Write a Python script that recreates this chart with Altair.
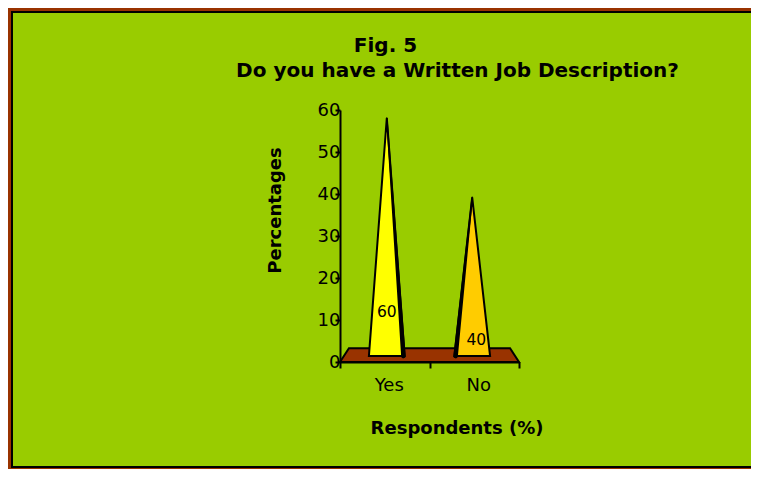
import altair as alt
import pandas as pd

# ---- data ----
categories = ["Yes", "No"]
values = [60, 40]              # percentages
label_level = [12, 5.2]        # where the value labels sit (in %)
y_ticks = [0, 10, 20, 30, 40, 50, 60]
cone_colors = ["#FFFF00", "#FFCC00"]
dark_side = [1, -1]            # side of the shaded cone face

# 3-D floor outline (x in category units 0..2, y in %)
floor_x = [0.0, 0.1, 1.9, 2.0]
floor_top = [0.0, 3.3, 3.3, 0.0]

# ---- layout constants ----
W, H = 179, 252
PERSPECTIVE = 0.945   # depth shrink of the cones standing mid-floor
CONE_BASE = 1.4       # cones stand in the middle of the floor depth
CONE_HALF = 0.2       # half base width in category units
FONT = "DejaVu Sans"

# ---- build tables ----
cone_rows, edge_rows = [], []
for i, (c, v) in enumerate(zip(categories, values)):
    cx = 1 + (i + 0.5 - 1) * 0.954
    apex = CONE_BASE + v * PERSPECTIVE
    cone_rows += [
        {"cat": c, "x": cx - CONE_HALF, "y": CONE_BASE, "base": CONE_BASE},
        {"cat": c, "x": cx, "y": apex, "base": CONE_BASE},
        {"cat": c, "x": cx + CONE_HALF, "y": CONE_BASE, "base": CONE_BASE},
    ]
    edge_rows += [
        {"cat": c, "x": cx, "y": apex, "w": 1.5, "ord": 0},
        {"cat": c, "x": cx + dark_side[i] * (CONE_HALF - 0.015), "y": CONE_BASE, "w": 4.5, "ord": 1},
    ]
cones = pd.DataFrame(cone_rows)
edges = pd.DataFrame(edge_rows)
floor = pd.DataFrame({"x": floor_x, "y": floor_top, "y0": [0.0] * len(floor_x)})
labels = pd.DataFrame({
    "cat": categories,
    "val": [str(v) for v in values],
    "lv": label_level,
    "lx": [i + 0.5 for i in range(len(categories))],
})

x_scale = alt.Scale(domain=[0, len(categories)], nice=False, zero=False)
y_scale = alt.Scale(domain=[0, 60], nice=False)

band_px = W / len(categories)
cat_expr = " : ".join(f"datum.value == {i} ? '{c}'" for i, c in enumerate(categories)) + " : ''"

x_axis = alt.Axis(
    values=list(range(len(categories) + 1)), labelExpr=cat_expr,
    labelOffset=band_px / 2 + 4, labelAngle=0, labelAlign="center",
    grid=False, tickSize=6, tickWidth=2, tickColor="black",
    domainColor="black", domainWidth=2, labelFont=FONT, labelFontSize=18,
    labelColor="black", labelPadding=8, zindex=1, labelFlush=False,
    labelOverlap=False,
    title="Respondents (%)", titleFont=FONT, titleFontSize=18,
    titleFontWeight="bold", titleColor="black", titleX=116.5, titleY=71,
    titleAlign="center", titleBaseline="alphabetic",
)
y_axis = alt.Axis(
    values=y_ticks, grid=False, domainColor="black", domainWidth=2,
    tickColor="black", tickWidth=2, tickSize=5, labelPadding=-5,
    labelFont=FONT, labelFontSize=18, labelColor="black", zindex=1,
    title="Percentages", titleFont=FONT, titleFontSize=18, titleFontWeight="bold",
    titleColor="black", titleAngle=270, titleX=-65, titleY=100,
    titleAlign="center", titleBaseline="middle",
)

# green panel with black frame (decoration)
panel = alt.Chart(pd.DataFrame({"a": [0]})).mark_rect(
    fill="#99CC00", stroke="black", strokeWidth=2
).encode(x=alt.value(-328), x2=alt.value(430), y=alt.value(-98), y2=alt.value(357))

floor_layer = alt.Chart(floor).mark_area(
    fill="#993300", stroke="black", strokeWidth=2, opacity=1
).encode(
    x=alt.X("x:Q", scale=x_scale, axis=x_axis),
    y=alt.Y("y:Q", scale=y_scale, axis=y_axis),
    y2="y0:Q",
)

cone_layer = alt.Chart(cones).mark_area(
    stroke="black", strokeWidth=2, opacity=1
).encode(
    x=alt.X("x:Q"),
    y=alt.Y("y:Q"),
    y2="base:Q",
    fill=alt.Fill("cat:N", scale=alt.Scale(domain=categories, range=cone_colors), legend=None),
    detail="cat:N",
)

edge_layer = alt.Chart(edges).mark_trail(color="black").encode(
    x=alt.X("x:Q"),
    y=alt.Y("y:Q"),
    size=alt.Size("w:Q", scale=None, legend=None),
    detail="cat:N",
    order="ord:Q",
)

label_layer = alt.Chart(labels).mark_text(
    font=FONT, fontSize=15.5, color="black", baseline="middle", dx=2
).encode(
    x=alt.X("lx:Q"),
    y=alt.Y("lv:Q"),
    text="val:N",
)

title1 = alt.Chart(pd.DataFrame({"t": ["Fig. 5"]})).mark_text(
    font=FONT, fontSize=20, fontWeight="bold", color="black", align="center", baseline="alphabetic"
).encode(text="t:N", x=alt.value(45.5), y=alt.value(-58))

title2 = alt.Chart(pd.DataFrame({"t": ["Do you have a Written Job Description?"]})).mark_text(
    font=FONT, fontSize=20, fontWeight="bold", color="black", align="center", baseline="alphabetic"
).encode(text="t:N", x=alt.value(117.5), y=alt.value(-33))

chart = alt.layer(panel, floor_layer, cone_layer, edge_layer, label_layer, title1, title2).properties(
    width=W, height=H,
    autosize=alt.AutoSizeParams(type="none"),
    padding={"left": 332, "top": 102, "right": 232, "bottom": 107},
    background="#993300",
).configure_view(stroke=None)

chart.save("out.html", embed_options={"renderer": "svg", "actions": False})
